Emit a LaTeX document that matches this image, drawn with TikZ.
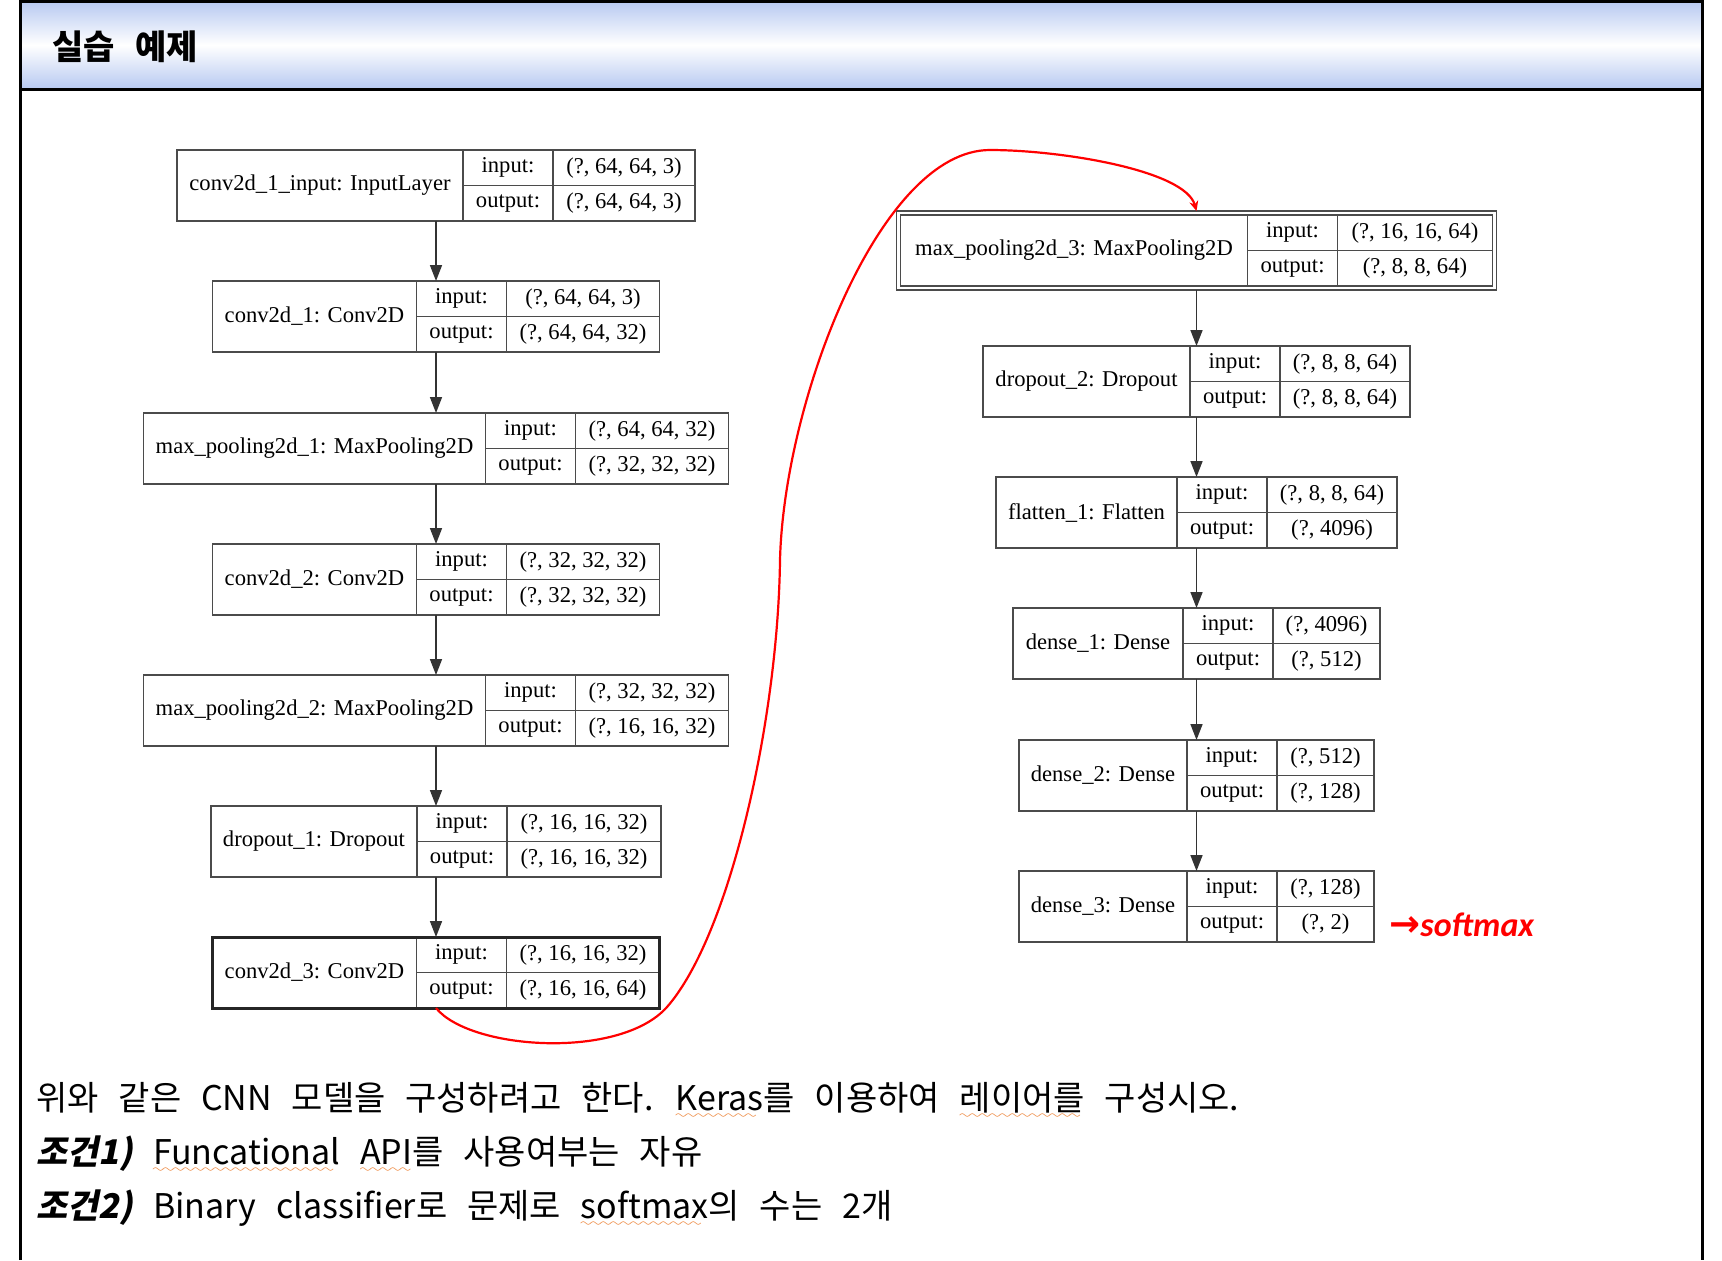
\documentclass[tikz,border=0pt]{standalone}
\usepackage{fontspec}
\usetikzlibrary{arrows.meta,fit,positioning}
\setmainfont{Liberation Serif}
\setsansfont{Carlito}
\newfontfamily\kr[WordSpace=2.6]{Noto Sans CJK KR}
\newfontfamily\krsl[FakeSlant=0.2,WordSpace=2.6]{Noto Sans CJK KR}
\newfontfamily\arrowfont{DejaVu Sans}
\definecolor{hdrblue}{RGB}{183,201,241}
\definecolor{boxline}{RGB}{75,75,75}
\definecolor{spellorange}{RGB}{236,122,40}
\newcommand{\kerasfont}{\fontsize{11.3}{13}\selectfont}
\font\spellwavefont=lasy6
\newsavebox{\spellbox}
\newcommand{\spell}[1]{\sbox{\spellbox}{#1}\rlap{\lower4pt\hbox to \wd\spellbox{\color{spellorange}\leaders\hbox{\spellwavefont\char58}\hfill}}\usebox{\spellbox}}

\begin{document}
\begin{tikzpicture}[x=0.5pt,y=-0.5pt,
  namecell/.style={draw=boxline, line width=0.8pt, minimum height=35.5pt, inner sep=0pt, outer sep=0pt, font=\kerasfont},
  iocell/.style={draw=boxline, line width=0.8pt, minimum height=17.75pt, minimum width=45pt, inner sep=0pt, outer sep=0pt, font=\kerasfont},
  valcell/.style={draw=boxline, line width=0.8pt, minimum height=17.75pt, inner sep=0pt, outer sep=0pt, font=\kerasfont},
  wrap/.style={inner sep=0pt, outer sep=0pt},
  flow/.style={draw=black!80, line width=0.8pt, -{Triangle[length=8pt,width=6pt]}},
  redflow/.style={red, line width=1.1pt, -{Stealth[length=5pt,width=4.5pt]}},
  krtext/.style={anchor=base west, inner sep=0pt, font=\kr\fontsize{17}{20}\selectfont}]
\useasboundingbox (0,0) rectangle (1722,1260);
\fill[white] (0,0) rectangle (1722,1260);

% Header bar
\shade[top color=hdrblue, bottom color=hdrblue, middle color=white] (20,1) rectangle (1702,89);
\draw[line width=1.5pt] (20,1260) -- (20,1) -- (1702,1) -- (1702,1260);
\draw[line width=1.5pt] (20,89) -- (1702,89);
\node[anchor=base west, inner sep=0pt, font=\kr\bfseries\fontsize{17}{20}\selectfont] (title) at (52,59) {실습 예제};

% Left column (centre x = 436)
\foreach \id/\cy/\lw/\vw/\lab/\vin/\vout in {
  in/150/286/142/{conv2d\_1\_input: InputLayer}/{(?, 64, 64, 3)}/{(?, 64, 64, 3)},
  c1/281/204/153/{conv2d\_1: Conv2D}/{(?, 64, 64, 3)}/{(?, 64, 64, 32)},
  p1/413/342/153/{max\_pooling2d\_1: MaxPooling2D}/{(?, 64, 64, 32)}/{(?, 32, 32, 32)},
  c2/544/204/153/{conv2d\_2: Conv2D}/{(?, 32, 32, 32)}/{(?, 32, 32, 32)},
  p2/675/342/153/{max\_pooling2d\_2: MaxPooling2D}/{(?, 32, 32, 32)}/{(?, 16, 16, 32)},
  d1/806/206/154/{dropout\_1: Dropout}/{(?, 16, 16, 32)}/{(?, 16, 16, 32)},
  c3/937/204/153/{conv2d\_3: Conv2D}/{(?, 16, 16, 32)}/{(?, 16, 16, 64)}} {
  \pgfmathsetmacro\lx{436-(\lw+90+\vw)/2}
  \node[namecell, minimum width=\lw*0.5pt, anchor=north west] (\id) at (\lx,\cy) {\lab};
  \node[iocell, anchor=north west] (\id-i) at (\id.north east) {input:};
  \node[iocell, anchor=north west] (\id-o) at (\id-i.south west) {output:};
  \node[valcell, minimum width=\vw*0.5pt, anchor=north west] (\id-vi) at (\id-i.north east) {\vin};
  \node[valcell, minimum width=\vw*0.5pt, anchor=north west] (\id-vo) at (\id-vi.south west) {\vout};
  \node[wrap, fit=(\id)(\id-vo)] (\id-box) {};
}

% Right column (centre x = 1196.5)
\foreach \id/\cy/\lw/\vw/\lab/\vin/\vout in {
  p3/215/347/155/{max\_pooling2d\_3: MaxPooling2D}/{(?, 16, 16, 64)}/{(?, 8, 8, 64)},
  d2/346/207/130/{dropout\_2: Dropout}/{(?, 8, 8, 64)}/{(?, 8, 8, 64)},
  f1/477/181/130/{flatten\_1: Flatten}/{(?, 8, 8, 64)}/{(?, 4096)},
  de1/608/170/107/{dense\_1: Dense}/{(?, 4096)}/{(?, 512)},
  de2/740/168/97/{dense\_2: Dense}/{(?, 512)}/{(?, 128)},
  de3/871/168/97/{dense\_3: Dense}/{(?, 128)}/{(?, 2)}} {
  \pgfmathsetmacro\lx{1196.5-(\lw+90+\vw)/2}
  \node[namecell, minimum width=\lw*0.5pt, anchor=north west] (\id) at (\lx,\cy) {\lab};
  \node[iocell, anchor=north west] (\id-i) at (\id.north east) {input:};
  \node[iocell, anchor=north west] (\id-o) at (\id-i.south west) {output:};
  \node[valcell, minimum width=\vw*0.5pt, anchor=north west] (\id-vi) at (\id-i.north east) {\vin};
  \node[valcell, minimum width=\vw*0.5pt, anchor=north west] (\id-vo) at (\id-vi.south west) {\vout};
  \node[wrap, fit=(\id)(\id-vo)] (\id-box) {};
}

% bold and double borders
\draw[black!85, line width=1.5pt] (c3-box.north west) rectangle (c3-box.south east);
\node[wrap, draw=boxline, line width=0.8pt, fit=(p3-box), inner sep=2pt] (p3-frame) {};

% Flow arrows
\foreach \a/\b in {in/c1, c1/p1, p1/c2, c2/p2, p2/d1, d1/c3, d2/f1, f1/de1, de1/de2, de2/de3}
  \draw[flow] (\a-box.south) -- (\b-box.north);
\draw[flow] (p3-frame.south) -- (d2-box.north);

% red link between the columns
\draw[redflow] (c3-box.south) .. controls (470,1050) and (620,1060) .. (667,1007)
  .. controls (730,935) and (778,720) .. (780,560)
  .. controls (784,400) and (880,150) .. (990,150)
  .. controls (1060,150) and (1185,170) .. (p3-frame.north);

\node[anchor=mid west, inner sep=0pt, text=red] (soft) at (1389,932) {{\arrowfont\bfseries\fontsize{18.5}{20}\selectfont →}{\sffamily\bfseries\itshape\fontsize{17}{20}\selectfont softmax}};

% Task text
\node[krtext] (line1) at (36,1110) {위와 같은 CNN 모델을 구성하려고 한다. \spell{Keras}를 이용하여 \spell{레이어를} 구성시오.};
\node[krtext] (line2) at (36,1164) {{\krsl\bfseries 조건1)} \spell{Funcational} \spell{API}를 사용여부는 자유};
\node[krtext] (line3) at (36,1218) {{\krsl\bfseries 조건2)} Binary classifier로 문제로 \spell{softmax}의 수는 2개};
\end{tikzpicture}
\end{document}
